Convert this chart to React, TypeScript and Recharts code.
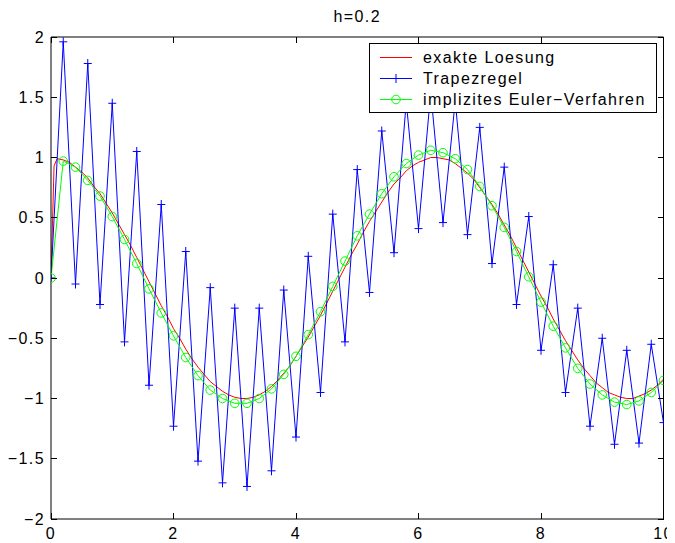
import { LineChart, Line, XAxis, YAxis, Legend, Label } from 'recharts';

const FONT = "'Liberation Sans', Arial, Helvetica, sans-serif";

// time grid of both numerical schemes, h = 0.2
const stepT = [
  0, 0.2, 0.4, 0.6, 0.8, 1.0, 1.2, 1.4, 1.6, 1.8,
  2.0, 2.2, 2.4, 2.6, 2.8, 3.0, 3.2, 3.4, 3.6, 3.8,
  4.0, 4.2, 4.4, 4.6, 4.8, 5.0, 5.2, 5.4, 5.6, 5.8,
  6.0, 6.2, 6.4, 6.6, 6.8, 7.0, 7.2, 7.4, 7.6, 7.8,
  8.0, 8.2, 8.4, 8.6, 8.8, 9.0, 9.2, 9.4, 9.6, 9.8, 10.0,
];

const trapezY = [
  0, 1.96, -0.05, 1.78, -0.22, 1.45, -0.53, 1.05, -0.89, 0.61,
  -1.23, 0.22, -1.52, -0.08, -1.70, -0.25, -1.73, -0.25, -1.60, -0.10,
  -1.32, 0.18, -0.95, 0.53, -0.53, 0.90, -0.12, 1.22, 0.21, 1.46,
  0.41, 1.54, 0.46, 1.47, 0.36, 1.25, 0.12, 0.92, -0.22, 0.51,
  -0.60, 0.11, -0.95, -0.25, -1.23, -0.50, -1.38, -0.60, -1.37, -0.55, -1.20,
];

const eulerY = [
  0, 0.97, 0.92, 0.81, 0.68, 0.51, 0.32, 0.12, -0.09, -0.29,
  -0.48, -0.66, -0.81, -0.93, -1.00, -1.04, -1.04, -1.00, -0.92, -0.80,
  -0.65, -0.47, -0.28, -0.07, 0.14, 0.35, 0.53, 0.70, 0.84, 0.95,
  1.02, 1.06, 1.04, 0.99, 0.90, 0.76, 0.60, 0.42, 0.22, 0.01,
  -0.20, -0.40, -0.58, -0.75, -0.88, -0.97, -1.03, -1.05, -1.02, -0.95, -0.85,
];

// exact solution on a finer grid
const exactT = [
  0, 0.05, 0.1, 0.2, 0.3, 0.4, 0.5, 0.6, 0.7, 0.8, 0.9,
  1.0, 1.1, 1.2, 1.3, 1.4, 1.5, 1.6, 1.7, 1.8, 1.9,
  2.0, 2.1, 2.2, 2.3, 2.4, 2.5, 2.6, 2.7, 2.8, 2.9,
  3.0, 3.1, 3.2, 3.3, 3.4, 3.5, 3.6, 3.7, 3.8, 3.9,
  4.0, 4.1, 4.2, 4.3, 4.4, 4.5, 4.6, 4.7, 4.8, 4.9,
  5.0, 5.1, 5.2, 5.3, 5.4, 5.5, 5.6, 5.7, 5.8, 5.9,
  6.0, 6.1, 6.2, 6.3, 6.4, 6.5, 6.6, 6.7, 6.8, 6.9,
  7.0, 7.1, 7.2, 7.3, 7.4, 7.5, 7.6, 7.7, 7.8, 7.9,
  8.0, 8.1, 8.2, 8.3, 8.4, 8.5, 8.6, 8.7, 8.8, 8.9,
  9.0, 9.1, 9.2, 9.3, 9.4, 9.5, 9.6, 9.7, 9.8, 9.9, 10.0,
];

const exactY = [
  0, 0.93, 0.99, 0.98, 0.96, 0.92, 0.88, 0.83, 0.76, 0.70, 0.62,
  0.54, 0.45, 0.36, 0.27, 0.17, 0.07, -0.03, -0.13, -0.23, -0.32,
  -0.42, -0.50, -0.59, -0.67, -0.74, -0.80, -0.86, -0.90, -0.94, -0.97,
  -0.99, -1.00, -1.00, -0.99, -0.97, -0.94, -0.90, -0.85, -0.79, -0.73,
  -0.65, -0.57, -0.49, -0.40, -0.31, -0.21, -0.11, -0.01, 0.09, 0.19,
  0.28, 0.38, 0.47, 0.55, 0.63, 0.71, 0.78, 0.83, 0.89, 0.93,
  0.96, 0.98, 1.00, 1.00, 0.99, 0.98, 0.95, 0.91, 0.87, 0.82,
  0.75, 0.68, 0.61, 0.53, 0.44, 0.35, 0.25, 0.15, 0.05, -0.05,
  -0.15, -0.24, -0.34, -0.43, -0.52, -0.60, -0.68, -0.75, -0.81, -0.87,
  -0.91, -0.95, -0.97, -0.99, -1.00, -1.00, -0.98, -0.96, -0.93, -0.89, -0.84,
];

const xTicks = [0, 2, 4, 6, 8, 10];
const yTicks = [-2, -1.5, -1, -0.5, 0, 0.5, 1, 1.5, 2];

const seriesNames = ['exakte Loesung', 'Trapezregel', 'implizites Euler\u2212Verfahren'];

const exactData = exactT.map((t, i) => ({ t, exact: exactY[i] }));
const trapezData = stepT.map((t, i) => ({ t, trapez: trapezY[i] }));
const eulerData = stepT.map((t, i) => ({ t, euler: eulerY[i] }));

const RED = '#ff0000';
const BLUE = '#0000ff';
const GREEN = '#00ff00';
const seriesColors = [RED, BLUE, GREEN];
const TICK_LEN = 6;

const minus = (v: number) => String(v).replace('-', '\u2212');

const textProps = { fill: '#000', fontSize: 16, fontFamily: FONT, letterSpacing: 1.4 };

// ticks point into the plot box, matlab style
const BottomTick = (props: any) => {
  const { x, y, payload } = props;
  return (
    <g>
      <line x1={x} x2={x} y1={y - 9} y2={y - 9 - TICK_LEN} stroke="#000" shapeRendering="crispEdges" />
      <text x={x} y={y} dy="0.71em" textAnchor="middle" {...textProps}>
        {payload.value}
      </text>
    </g>
  );
};

const LeftTick = (props: any) => {
  const { x, y, payload } = props;
  return (
    <g>
      <line x1={x + 7} x2={x + 7 + TICK_LEN} y1={y} y2={y} stroke="#000" shapeRendering="crispEdges" />
      <text x={x + 1} y={y} dy="0.355em" textAnchor="end" {...textProps}>
        {minus(payload.value)}
      </text>
    </g>
  );
};

const TopTick = (props: any) => {
  const { x, y } = props;
  return <line x1={x} x2={x} y1={y} y2={y + TICK_LEN} stroke="#000" shapeRendering="crispEdges" />;
};

const RightTick = (props: any) => {
  const { x, y } = props;
  return <line x1={x} x2={x - TICK_LEN} y1={y} y2={y} stroke="#000" shapeRendering="crispEdges" />;
};

// "+" marker
const PlusDot = (props: any) => {
  const { cx, cy } = props;
  if (cx == null || cy == null) return <g />;
  return (
    <path
      d={`M${cx - 4},${cy}H${cx + 4}M${cx},${cy - 4.5}V${cy + 4.5}`}
      stroke={BLUE}
      strokeWidth={1}
      fill="none"
    />
  );
};

const markerFor = (idx: number, color: string) => {
  if (idx === 1) {
    return <path d="M22,10.5H30M26,6V15" stroke={color} strokeWidth={1} fill="none" />;
  }
  if (idx === 2) {
    return <circle cx={26} cy={10.5} r={4.3} stroke={color} strokeWidth={1} fill="none" />;
  }
  return null;
};

const renderLegend = () => (
  <div
    style={{
      boxSizing: 'border-box',
      width: 288,
      height: 70,
      border: '1px solid #000',
      background: '#fff',
      paddingTop: 3,
      fontFamily: FONT,
      fontSize: 16,
      letterSpacing: 1.4,
      color: '#000',
    }}
  >
    {seriesNames.map((name, i) => (
      <div key={name} style={{ display: 'flex', alignItems: 'center', height: 21 }}>
        <svg width={53} height={21} style={{ flex: 'none' }}>
          <line x1={10} x2={42} y1={10.5} y2={10.5} stroke={seriesColors[i]} strokeWidth={1} />
          {markerFor(i, seriesColors[i])}
        </svg>
        <span style={{ whiteSpace: 'nowrap', lineHeight: '21px' }}>{name}</span>
      </div>
    ))}
  </div>
);

export default function App() {
  return (
    <LineChart width={667} height={535} margin={{ top: 28, right: 10.5, bottom: 0, left: 0 }}>
      <XAxis
        dataKey="t"
        type="number"
        domain={[0, 10]}
        ticks={xTicks}
        allowDataOverflow
        height={24}
        stroke="#000"
        tickLine={false}
        tickSize={0}
        tickMargin={9}
        tick={<BottomTick />}
      />
      <XAxis
        xAxisId="top"
        orientation="top"
        dataKey="t"
        type="number"
        domain={[0, 10]}
        ticks={xTicks}
        allowDataOverflow
        height={1}
        stroke="#000"
        tickLine={false}
        tickSize={0}
        tickMargin={0}
        tick={<TopTick />}
      >
        <Label value="h=0.2" position="top" offset={14} fill="#000" fontSize={16} fontFamily={FONT} letterSpacing={1.4} />
      </XAxis>
      <YAxis
        type="number"
        domain={[-2, 2]}
        ticks={yTicks}
        allowDataOverflow
        width={43}
        stroke="#000"
        tickLine={false}
        tickSize={0}
        tickMargin={7}
        tick={<LeftTick />}
      />
      <YAxis
        yAxisId="right"
        orientation="right"
        type="number"
        domain={[-2, 2]}
        ticks={yTicks}
        allowDataOverflow
        width={1}
        stroke="#000"
        tickLine={false}
        tickSize={0}
        tickMargin={0}
        tick={<RightTick />}
      />
      <Legend
        content={renderLegend}
        layout="vertical"
        align="center"
        verticalAlign="middle"
        wrapperStyle={{ top: 35, left: 361, width: 288 }}
      />
      <Line
        data={exactData}
        dataKey="exact"
        name={seriesNames[0]}
        type="linear"
        stroke={RED}
        strokeWidth={1}
        dot={false}
        isAnimationActive={false}
      />
      <Line
        data={trapezData}
        dataKey="trapez"
        name={seriesNames[1]}
        type="linear"
        stroke={BLUE}
        strokeWidth={1}
        dot={(p: any) => <PlusDot {...p} key={p.key} />}
        isAnimationActive={false}
      />
      <Line
        data={eulerData}
        dataKey="euler"
        name={seriesNames[2]}
        type="linear"
        stroke={GREEN}
        strokeWidth={1}
        dot={{ r: 4.3, stroke: GREEN, strokeWidth: 1, fill: 'none' }}
        isAnimationActive={false}
      />
    </LineChart>
  );
}
